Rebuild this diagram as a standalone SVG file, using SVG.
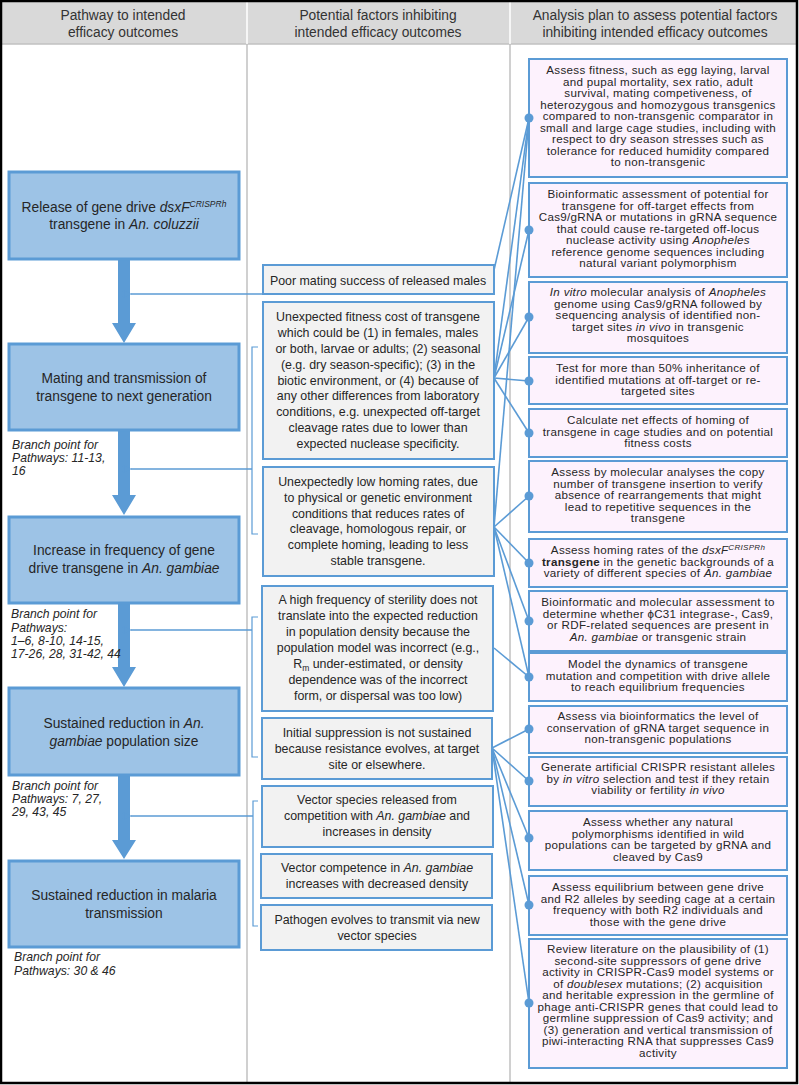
<svg xmlns="http://www.w3.org/2000/svg" width="799" height="1085" viewBox="0 0 799 1085">
<style>
text{font-family:"Liberation Sans",Arial,sans-serif;fill:#262626}
.hd{font-size:13.8px;text-anchor:middle;fill:#333}
.lt{font-size:13.8px;text-anchor:middle}
.mt{font-size:12.4px;text-anchor:middle}
.rt{font-size:11.6px;letter-spacing:0.3px;text-anchor:middle}
.br{font-size:12.2px;font-style:italic}
.lbox{fill:#9dc3e6;stroke:#5b9bd5;stroke-width:3}
.mbox{fill:#f2f2f2;stroke:#5b9bd5;stroke-width:2}
.rbox{fill:#fdf2fd;stroke:#5b9bd5;stroke-width:2}
.con{stroke:#5b9bd5;stroke-width:1.6;fill:none}
.thin{stroke:#5b9bd5;stroke-width:1.2;fill:none}
.dot{fill:#5b9bd5}
.big{fill:#5b9bd5}
</style>
<defs>
<marker id="ah" markerWidth="10" markerHeight="10" refX="1" refY="5" orient="auto" markerUnits="userSpaceOnUse">
<path d="M10,1 L0,5 L10,9 L7,5 Z" fill="#5b9bd5"/>
</marker>
</defs>
<rect x="0" y="0" width="799" height="1085" fill="#fff"/>
<rect x="1" y="1" width="796" height="43" fill="#d9d9d9"/>
<line x1="1" y1="44" x2="797" y2="44" stroke="#c0c0c0" stroke-width="1.5"/>
<line x1="247" y1="1" x2="247" y2="44" stroke="#fff" stroke-width="1.5"/>
<line x1="510" y1="1" x2="510" y2="44" stroke="#fff" stroke-width="1.5"/>
<line x1="247" y1="44" x2="247" y2="1083" stroke="#c0c0c0" stroke-width="1.5"/>
<line x1="510" y1="44" x2="510" y2="1083" stroke="#c0c0c0" stroke-width="1.5"/>
<rect x="1" y="1" width="796" height="1082" fill="none" stroke="#000" stroke-width="2.5"/>
<g id="headers">
<text class="hd" x="123" y="20">Pathway to intended</text>
<text class="hd" x="123" y="37">efficacy outcomes</text>
<text class="hd" x="378" y="20">Potential factors inhibiting</text>
<text class="hd" x="378" y="37">intended efficacy outcomes</text>
<text class="hd" x="655" y="20">Analysis plan to assess potential factors</text>
<text class="hd" x="655" y="37">inhibiting intended efficacy outcomes</text>
</g>
<g id="connectors">
<path class="big" d="M118,259 H130 V323 H136 L124,343 L112,323 H118 Z"/>
<path class="big" d="M118,430 H130 V495 H136 L124,515 L112,495 H118 Z"/>
<path class="big" d="M118,603 H130 V667 H136 L124,687 L112,667 H118 Z"/>
<path class="big" d="M118,775 H130 V840 H136 L124,859 L112,840 H118 Z"/>
<path class="thin" d="M258,347 H252 V534 H258"/>
<path class="thin" d="M258,617 H252 V757 H258"/>
<path class="thin" d="M258,801 H253 V926 H258"/>
<line class="con" x1="263" y1="294" x2="131" y2="294" marker-end="url(#ah)"/>
<line class="con" x1="252" y1="469" x2="131" y2="469" marker-end="url(#ah)"/>
<line class="con" x1="252" y1="630" x2="131" y2="630" marker-end="url(#ah)"/>
<line class="con" x1="253" y1="816" x2="131" y2="816" marker-end="url(#ah)"/>
<line class="con" x1="529" y1="118" x2="494" y2="270"/>
<line class="con" x1="529" y1="118" x2="494" y2="378"/>
<line class="con" x1="529" y1="118" x2="494" y2="527"/>
<line class="con" x1="529" y1="230" x2="494" y2="378"/>
<line class="con" x1="529" y1="317" x2="494" y2="378"/>
<line class="con" x1="529" y1="381" x2="494" y2="378"/>
<line class="con" x1="529" y1="433" x2="494" y2="378"/>
<line class="con" x1="529" y1="496" x2="494" y2="527"/>
<line class="con" x1="529" y1="563" x2="494" y2="527"/>
<line class="con" x1="529" y1="621" x2="494" y2="527"/>
<line class="con" x1="529" y1="677" x2="494" y2="527"/>
<line class="con" x1="529" y1="677" x2="494" y2="648"/>
<line class="con" x1="529" y1="729" x2="492" y2="748"/>
<line class="con" x1="529" y1="781" x2="492" y2="748"/>
<line class="con" x1="529" y1="838" x2="492" y2="748"/>
<line class="con" x1="529" y1="905" x2="492" y2="748"/>
<line class="con" x1="529" y1="1003" x2="492" y2="748"/>
</g>
<g id="n-release">
<rect class="lbox" x="9" y="172" width="230" height="87"/>
<text class="lt" x="124" y="212">Release of gene drive <tspan font-style="italic">dsxF</tspan><tspan font-style="italic" font-size="8.5px" dy="-5">CRISPRh</tspan></text>
<text class="lt" x="124" y="229">transgene in <tspan font-style="italic">An. coluzzii</tspan></text>
</g>
<g id="n-mating">
<rect class="lbox" x="9" y="344" width="230" height="86"/>
<text class="lt" x="124" y="383">Mating and transmission of</text>
<text class="lt" x="124" y="401">transgene to next generation</text>
</g>
<g id="n-increase">
<rect class="lbox" x="9" y="517" width="230" height="86"/>
<text class="lt" x="124" y="555">Increase in frequency of gene</text>
<text class="lt" x="124" y="573">drive transgene in <tspan font-style="italic">An. gambiae</tspan></text>
</g>
<g id="n-sustpop">
<rect class="lbox" x="9" y="688" width="230" height="87"/>
<text class="lt" x="124" y="728">Sustained reduction in <tspan font-style="italic">An.</tspan></text>
<text class="lt" x="124" y="746"><tspan font-style="italic">gambiae</tspan> population size</text>
</g>
<g id="n-sustmal">
<rect class="lbox" x="9" y="861" width="230" height="86"/>
<text class="lt" x="124" y="900">Sustained reduction in malaria</text>
<text class="lt" x="124" y="918">transmission</text>
</g>
<g id="branch-labels">
<text class="br" x="12" y="449">Branch point for</text>
<text class="br" x="12" y="462">Pathways: 11-13,</text>
<text class="br" x="12" y="475">16</text>
<text class="br" x="11" y="618">Branch point for</text>
<text class="br" x="11" y="632">Pathways:</text>
<text class="br" x="11" y="645">1–6, 8-10, 14-15,</text>
<text class="br" x="11" y="658">17-26, 28, 31-42, 44</text>
<text class="br" x="12" y="790">Branch point for</text>
<text class="br" x="12" y="803">Pathways: 7, 27,</text>
<text class="br" x="12" y="816">29, 43, 45</text>
<text class="br" x="14" y="961">Branch point for</text>
<text class="br" x="14" y="975">Pathways: 30 &amp; 46</text>
</g>
<g id="f-mating">
<rect class="mbox" x="263" y="265" width="231" height="29"/>
<text class="mt" x="378" y="285">Poor mating success of released males</text>
</g>
<g id="f-fitness">
<rect class="mbox" x="263" y="302" width="231" height="157"/>
<text class="mt" x="378" y="321">Unexpected fitness cost of transgene</text>
<text class="mt" x="378" y="337">which could be (1) in females, males</text>
<text class="mt" x="378" y="353">or both, larvae or adults; (2) seasonal</text>
<text class="mt" x="378" y="369">(e.g. dry season-specific); (3) in the</text>
<text class="mt" x="378" y="385">biotic environment, or (4) because of</text>
<text class="mt" x="378" y="400">any other differences from laboratory</text>
<text class="mt" x="378" y="416">conditions, e.g. unexpected off-target</text>
<text class="mt" x="378" y="432">cleavage rates due to lower than</text>
<text class="mt" x="378" y="448">expected nuclease specificity.</text>
</g>
<g id="f-homing">
<rect class="mbox" x="263" y="467" width="231" height="109"/>
<text class="mt" x="378" y="486">Unexpectedly low homing rates, due</text>
<text class="mt" x="378" y="502">to physical or genetic environment</text>
<text class="mt" x="378" y="518">conditions that reduces rates of</text>
<text class="mt" x="378" y="533">cleavage, homologous repair, or</text>
<text class="mt" x="378" y="549">complete homing, leading to less</text>
<text class="mt" x="378" y="565">stable transgene.</text>
</g>
<g id="f-sterility">
<rect class="mbox" x="262" y="586" width="231" height="125"/>
<text class="mt" x="378" y="604">A high frequency of sterility does not</text>
<text class="mt" x="378" y="620">translate into the expected reduction</text>
<text class="mt" x="378" y="636">in population density because the</text>
<text class="mt" x="378" y="652">population model was incorrect (e.g.,</text>
<text class="mt" x="378" y="668">R<tspan font-size="8.5px" dy="3">m</tspan><tspan dy="-3"> under-estimated, or density</tspan></text>
<text class="mt" x="378" y="684">dependence was of the incorrect</text>
<text class="mt" x="378" y="700">form, or dispersal was too low)</text>
</g>
<g id="f-resistance">
<rect class="mbox" x="262" y="718" width="230" height="61"/>
<text class="mt" x="377" y="737">Initial suppression is not sustained</text>
<text class="mt" x="377" y="753">because resistance evolves, at target</text>
<text class="mt" x="377" y="769">site or elsewhere.</text>
</g>
<g id="f-vector">
<rect class="mbox" x="262" y="786" width="231" height="61"/>
<text class="mt" x="377" y="804">Vector species released from</text>
<text class="mt" x="377" y="820">competition with <tspan font-style="italic">An. gambiae</tspan> and</text>
<text class="mt" x="377" y="836">increases in density</text>
</g>
<g id="f-competence">
<rect class="mbox" x="261" y="854" width="231" height="44"/>
<text class="mt" x="377" y="872">Vector competence in <tspan font-style="italic">An. gambiae</tspan></text>
<text class="mt" x="377" y="888">increases with decreased density</text>
</g>
<g id="f-pathogen">
<rect class="mbox" x="261" y="905" width="231" height="45"/>
<text class="mt" x="377" y="924">Pathogen evolves to transmit via new</text>
<text class="mt" x="377" y="940">vector species</text>
</g>
<g id="a1">
<rect class="rbox" x="529" y="59" width="258" height="118"/>
<text class="rt" x="658" y="74">Assess fitness, such as egg laying, larval</text>
<text class="rt" x="658" y="85.5">and pupal mortality, sex ratio, adult</text>
<text class="rt" x="658" y="97">survival, mating competiveness, of</text>
<text class="rt" x="658" y="108.5">heterozygous and homozygous transgenics</text>
<text class="rt" x="658" y="120">compared to non-transgenic comparator in</text>
<text class="rt" x="658" y="131.5">small and large cage studies, including with</text>
<text class="rt" x="658" y="143">respect to dry season stresses such as</text>
<text class="rt" x="658" y="154.5">tolerance for reduced humidity compared</text>
<text class="rt" x="658" y="166">to non-transgenic</text>
</g>
<g id="a2">
<rect class="rbox" x="529" y="183" width="258" height="94"/>
<text class="rt" x="658" y="198">Bioinformatic assessment of potential for</text>
<text class="rt" x="658" y="209.5">transgene for off-target effects from</text>
<text class="rt" x="658" y="221">Cas9/gRNA or mutations in gRNA sequence</text>
<text class="rt" x="658" y="232.5">that could cause re-targeted off-locus</text>
<text class="rt" x="658" y="244">nuclease activity using <tspan font-style="italic">Anopheles</tspan></text>
<text class="rt" x="658" y="255.5">reference genome sequences including</text>
<text class="rt" x="658" y="267">natural variant polymorphism</text>
</g>
<g id="a3">
<rect class="rbox" x="529" y="282" width="258" height="71"/>
<text class="rt" x="658" y="296"><tspan font-style="italic">In vitro</tspan> molecular analysis of <tspan font-style="italic">Anopheles</tspan></text>
<text class="rt" x="658" y="307.5">genome using Cas9/gRNA followed by</text>
<text class="rt" x="658" y="319">sequencing analysis of identified non-</text>
<text class="rt" x="658" y="330.5">target sites <tspan font-style="italic">in vivo</tspan> in transgenic</text>
<text class="rt" x="658" y="342">mosquitoes</text>
</g>
<g id="a4">
<rect class="rbox" x="529" y="357" width="258" height="47"/>
<text class="rt" x="658" y="372">Test for more than 50% inheritance of</text>
<text class="rt" x="658" y="383.5">identified mutations at off-target or re-</text>
<text class="rt" x="658" y="395">targeted sites</text>
</g>
<g id="a5">
<rect class="rbox" x="529" y="409" width="258" height="48"/>
<text class="rt" x="658" y="424">Calculate net effects of homing of</text>
<text class="rt" x="658" y="435.5">transgene in cage studies and on potential</text>
<text class="rt" x="658" y="447">fitness costs</text>
</g>
<g id="a6">
<rect class="rbox" x="529" y="461" width="258" height="71"/>
<text class="rt" x="658" y="476">Assess by molecular analyses the copy</text>
<text class="rt" x="658" y="487.5">number of transgene insertion to verify</text>
<text class="rt" x="658" y="499">absence of rearrangements that might</text>
<text class="rt" x="658" y="510.5">lead to repetitive sequences in the</text>
<text class="rt" x="658" y="522">transgene</text>
</g>
<g id="a7">
<rect class="rbox" x="529" y="539" width="258" height="48"/>
<text class="rt" x="658" y="554">Assess homing rates of the  <tspan font-style="italic">dsxF</tspan><tspan font-style="italic" font-size="8px" dy="-4">CRISPRh</tspan></text>
<text class="rt" x="658" y="565.5"><tspan font-weight="bold">transgene</tspan> in the genetic backgrounds of a</text>
<text class="rt" x="658" y="577">variety of different species of <tspan font-style="italic">An. gambiae</tspan></text>
</g>
<g id="a8">
<rect class="rbox" x="529" y="591" width="258" height="60"/>
<text class="rt" x="658" y="606">Bioinformatic and molecular assessment to</text>
<text class="rt" x="658" y="617.5">determine whether ϕC31 integrase-, Cas9,</text>
<text class="rt" x="658" y="629">or RDF-related sequences are present in</text>
<text class="rt" x="658" y="640.5"><tspan font-style="italic">An. gambiae</tspan> or transgenic strain</text>
</g>
<g id="a9">
<rect class="rbox" x="529" y="653" width="258" height="48"/>
<text class="rt" x="658" y="668">Model the dynamics of transgene</text>
<text class="rt" x="658" y="679.5">mutation and competition with drive allele</text>
<text class="rt" x="658" y="691">to reach equilibrium frequencies</text>
</g>
<g id="a10">
<rect class="rbox" x="529" y="706" width="258" height="47"/>
<text class="rt" x="658" y="720">Assess via bioinformatics the level of</text>
<text class="rt" x="658" y="731.5">conservation of gRNA target sequence in</text>
<text class="rt" x="658" y="743">non-transgenic populations</text>
</g>
<g id="a11">
<rect class="rbox" x="529" y="757" width="258" height="49"/>
<text class="rt" x="658" y="771">Generate artificial CRISPR resistant alleles</text>
<text class="rt" x="658" y="782.5">by <tspan font-style="italic">in vitro</tspan> selection and test if they retain</text>
<text class="rt" x="658" y="794">viability or fertility <tspan font-style="italic">in vivo</tspan></text>
</g>
<g id="a12">
<rect class="rbox" x="529" y="811" width="258" height="59"/>
<text class="rt" x="658" y="826">Assess whether any natural</text>
<text class="rt" x="658" y="837.5">polymorphisms identified in wild</text>
<text class="rt" x="658" y="849">populations can be targeted by gRNA and</text>
<text class="rt" x="658" y="860.5">cleaved by Cas9</text>
</g>
<g id="a13">
<rect class="rbox" x="529" y="876" width="258" height="59"/>
<text class="rt" x="658" y="891">Assess equilibrium between gene drive</text>
<text class="rt" x="658" y="902.5">and R2 alleles by seeding cage at a certain</text>
<text class="rt" x="658" y="914">frequency with both R2 individuals and</text>
<text class="rt" x="658" y="925.5">those with the gene drive</text>
</g>
<g id="a14">
<rect class="rbox" x="529" y="939" width="258" height="129"/>
<text class="rt" x="658" y="953">Review literature on the plausibility of (1)</text>
<text class="rt" x="658" y="964.5">second-site suppressors of gene drive</text>
<text class="rt" x="658" y="976">activity in CRISPR-Cas9 model systems or</text>
<text class="rt" x="658" y="987.5">of <tspan font-style="italic">doublesex</tspan> mutations;  (2) acquisition</text>
<text class="rt" x="658" y="999">and heritable expression in the germline of</text>
<text class="rt" x="658" y="1010.5">phage anti-CRISPR genes that could lead to</text>
<text class="rt" x="658" y="1022">germline suppression of Cas9 activity; and</text>
<text class="rt" x="658" y="1033.5">(3) generation and vertical transmission of</text>
<text class="rt" x="658" y="1045">piwi-interacting RNA that suppresses Cas9</text>
<text class="rt" x="658" y="1056.5">activity</text>
</g>
<g id="dots">
<circle class="dot" cx="529" cy="118" r="4.5"/>
<circle class="dot" cx="529" cy="230" r="4.5"/>
<circle class="dot" cx="529" cy="317" r="4.5"/>
<circle class="dot" cx="529" cy="381" r="4.5"/>
<circle class="dot" cx="529" cy="433" r="4.5"/>
<circle class="dot" cx="529" cy="496" r="4.5"/>
<circle class="dot" cx="529" cy="563" r="4.5"/>
<circle class="dot" cx="529" cy="621" r="4.5"/>
<circle class="dot" cx="529" cy="677" r="4.5"/>
<circle class="dot" cx="529" cy="729" r="4.5"/>
<circle class="dot" cx="529" cy="781" r="4.5"/>
<circle class="dot" cx="529" cy="838" r="4.5"/>
<circle class="dot" cx="529" cy="905" r="4.5"/>
<circle class="dot" cx="529" cy="1003" r="4.5"/>
</g>
</svg>
